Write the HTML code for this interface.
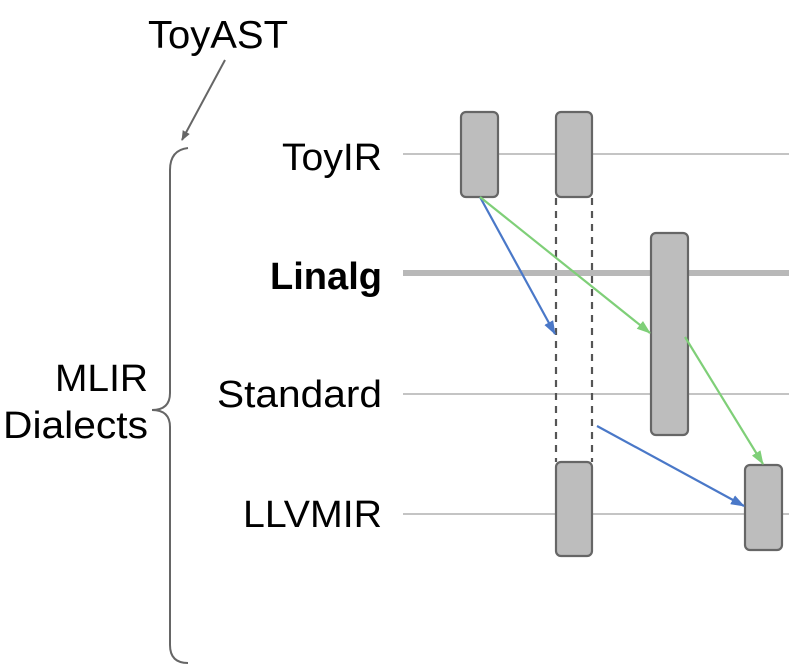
<!DOCTYPE html>
<html><head><style>html,body{margin:0;padding:0;background:#fff}svg{display:block}</style></head>
<body>
<svg width="789" height="672" viewBox="0 0 789 672" xmlns="http://www.w3.org/2000/svg" font-family="Liberation Sans, sans-serif">
<defs>
<marker id="ag" markerWidth="10" markerHeight="8" refX="9" refY="4" orient="auto" markerUnits="userSpaceOnUse"><path d="M0,0 L10,4 L0,8 z" fill="#666"/></marker>
<marker id="ab" markerWidth="14" markerHeight="10" refX="13" refY="5" orient="auto" markerUnits="userSpaceOnUse"><path d="M0,0 L14,5 L0,10 z" fill="#4a78c8"/></marker>
<marker id="agr" markerWidth="14" markerHeight="10" refX="13" refY="5" orient="auto" markerUnits="userSpaceOnUse"><path d="M0,0 L14,5 L0,10 z" fill="#7fcf78"/></marker>
</defs>
<g stroke="#c4c4c4" stroke-width="2">
<line x1="403" y1="154" x2="789" y2="154"/>
<line x1="403" y1="394" x2="789" y2="394"/>
<line x1="403" y1="514" x2="789" y2="514"/>
</g>
<line x1="403" y1="273" x2="789" y2="273" stroke="#b8b8b8" stroke-width="6"/>
<g stroke="#555" stroke-width="2.2" stroke-dasharray="7,6">
<line x1="556" y1="198" x2="556" y2="462"/>
<line x1="592" y1="198" x2="592" y2="462"/>
</g>
<g fill="#bdbdbd" stroke="#666" stroke-width="2.2">
<rect x="461" y="112" width="37" height="85" rx="5"/>
<rect x="556" y="112" width="36" height="85" rx="5"/>
<rect x="651" y="233" width="37" height="202" rx="5"/>
<rect x="556" y="462" width="36" height="94" rx="5"/>
<rect x="745" y="465" width="37" height="85" rx="5"/>
</g>
<line x1="480" y1="197" x2="555" y2="334" stroke="#4a78c8" stroke-width="2.2" marker-end="url(#ab)"/>
<line x1="480" y1="197" x2="650" y2="333" stroke="#7fcf78" stroke-width="2.2" marker-end="url(#agr)"/>
<line x1="685" y1="337" x2="763" y2="464" stroke="#7fcf78" stroke-width="2.2" marker-end="url(#agr)"/>
<line x1="597" y1="426" x2="744" y2="506" stroke="#4a78c8" stroke-width="2.2" marker-end="url(#ab)"/>
<line x1="225" y1="60" x2="182" y2="140" stroke="#666" stroke-width="2" marker-end="url(#ag)"/>
<path d="M188,148 Q170,150 170,170 L170,393 Q170,410 152,410 Q170,410 170,427 L170,645 Q170,663 188,663" fill="none" stroke="#666" stroke-width="2"/>
<g fill="#000" font-size="38">
<text x="148" y="48" font-size="39" textLength="140" lengthAdjust="spacingAndGlyphs">ToyAST</text>
<text x="282" y="170" textLength="100" lengthAdjust="spacingAndGlyphs">ToyIR</text>
<text x="270" y="289" font-weight="bold" textLength="112" lengthAdjust="spacingAndGlyphs">Linalg</text>
<text x="217" y="407" textLength="165" lengthAdjust="spacingAndGlyphs">Standard</text>
<text x="243" y="527" textLength="139" lengthAdjust="spacingAndGlyphs">LLVMIR</text>
<text x="55" y="391" textLength="93" lengthAdjust="spacingAndGlyphs">MLIR</text>
<text x="3" y="438" textLength="145" lengthAdjust="spacingAndGlyphs">Dialects</text>
</g>
</svg>
</body></html>
